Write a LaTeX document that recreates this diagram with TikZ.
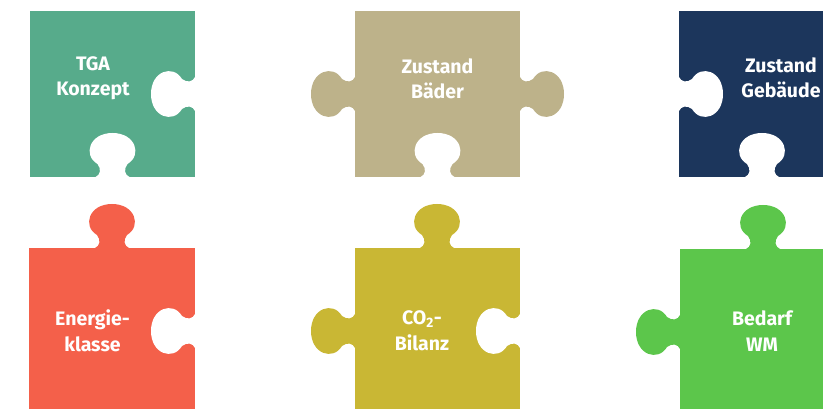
\documentclass[tikz,border=0pt]{standalone}
\usepackage{fontspec}
\setmainfont{Fira Sans}
\definecolor{cteal}{HTML}{57AB8B}
\definecolor{cbeige}{HTML}{BDB28A}
\definecolor{cnavy}{HTML}{1C365C}
\definecolor{corange}{HTML}{F4604A}
\definecolor{cmustard}{HTML}{C9B734}
\definecolor{cgreen}{HTML}{5CC64B}
\tikzset{
  knob/.pic={\fill[pic actions] (-17,0) .. controls (-12,2) and (-11,8) .. (-15,13)
     .. controls (-30,22) and (-23,44) .. (0,44) .. controls (23,44) and (30,22) .. (15,13)
     .. controls (11,8) and (12,2) .. (17,0) -- cycle;},
  lbl/.style={text=white, font=\bfseries\fontsize{19.5}{25.5}\selectfont, align=center, inner sep=0pt},
  hole/.style={fill=white}
}
\begin{document}
\begin{tikzpicture}[x=1pt,y=-1pt]
\clip (0,0) rectangle (823,409);
\fill[white] (0,0) rectangle (823,409);
% piece 1
\fill[cteal] (30,11) rectangle (195,177);
\pic[hole, rotate=-90] at (195,94) {knob};
\pic[hole, rotate=180] at (112.5,177) {knob};
\node[lbl] (t1) at (93,78) {TGA\\Konzept};
% piece 2
\fill[cbeige] (355,11) rectangle (520,177);
\pic[fill=cbeige, rotate=-90] at (355,94) {knob};
\pic[fill=cbeige, rotate=90] at (520,94) {knob};
\pic[hole, rotate=180] at (437.5,177) {knob};
\node[lbl] (t2) at (437.5,79) {Zustand\\Bäder};
% piece 3
\fill[cnavy] (679,11) rectangle (845,177);
\pic[hole, rotate=90] at (679,94) {knob};
\pic[hole, rotate=180] at (762,177) {knob};
\node[lbl] (t3) at (781,78) {Zustand\\Gebäude};
% piece 4
\fill[corange] (29,248) rectangle (195,414);
\pic[fill=corange, rotate=180] at (112,248) {knob};
\pic[hole, rotate=-90] at (195,331) {knob};
\node[lbl] (t4) at (92.5,331) {Energie-\\klasse};
% piece 5
\fill[cmustard] (355,248) rectangle (520,414);
\pic[fill=cmustard, rotate=180] at (437,248) {knob};
\pic[fill=cmustard, rotate=-90] at (355,331) {knob};
\pic[hole, rotate=-90] at (520,331) {knob};
\node[lbl] (t5) at (422,330.5) {CO\textsubscript{2}-\\Bilanz};
% piece 6
\fill[cgreen] (680,249) rectangle (846,415);
\pic[fill=cgreen, rotate=180] at (763,249) {knob};
\pic[fill=cgreen, rotate=-90] at (680,332) {knob};
\node[lbl] (t6) at (762,331) {Bedarf\\WM};
\end{tikzpicture}
\end{document}
